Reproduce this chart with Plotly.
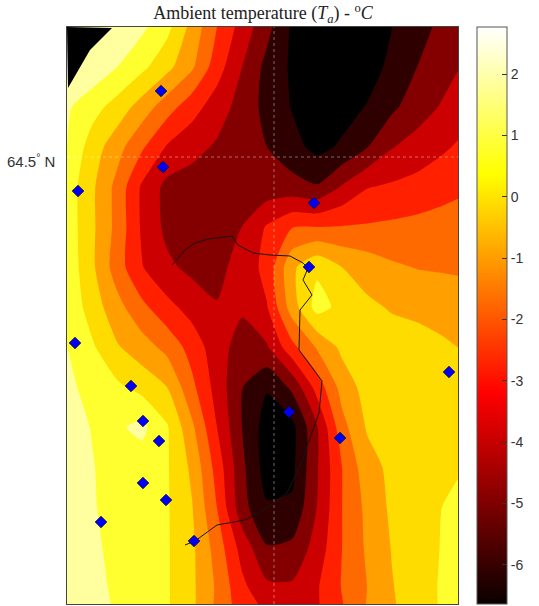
import plotly.graph_objects as go

# map units: metres-like scale, origin at the lower-left of the frame
grid_x = [0, 25, 50, 75, 100, 125, 150, 175, 200, 225, 250, 275, 300, 325, 350, 375, 391]
grid_y = [577, 537, 497, 457, 417, 377, 337, 297, 257, 217, 177, 137, 97, 57, 17, 0]

temp_rows = [
    [1.91, 1.82, 1.65, 1.23, 0.46, -0.94, -2.37, -3.56, -4.67, -5.91, -6.30, -6.47, -6.30, -5.79, -5.27, -4.72, -4.33],
    [2.08, 1.65, 1.06, 0.41, -0.40, -1.38, -2.84, -4.07, -5.19, -5.91, -6.30, -6.47, -6.17, -5.57, -4.93, -4.46, -4.12],
    [1.18, 0.54, -0.14, -1.04, -1.98, -2.88, -3.65, -4.42, -5.19, -5.83, -6.26, -6.13, -5.74, -5.10, -4.50, -3.99, -3.65],
    [1.06, -0.20, -1.17, -2.24, -3.30, -3.78, -4.20, -4.59, -4.93, -5.49, -6.04, -5.66, -4.97, -4.12, -3.73, -3.35, -3.13],
    [0.71, -0.48, -1.77, -3.35, -4.33, -4.50, -4.59, -4.67, -4.59, -4.59, -4.85, -3.99, -3.26, -3.09, -2.92, -2.71, -2.58],
    [0.71, -0.48, -1.77, -3.35, -4.29, -4.50, -4.42, -4.07, -3.13, -2.41, -2.37, -2.32, -2.28, -2.20, -2.11, -1.98, -1.85],
    [0.80, -0.48, -1.94, -3.18, -3.90, -4.29, -4.33, -3.73, -2.96, -0.83, 0.03, -0.66, -1.04, -1.38, -1.55, -1.60, -1.64],
    [0.88, -0.19, -1.21, -2.15, -2.96, -3.56, -4.02, -3.95, -3.26, -1.08, 0.54, -0.06, -0.48, -0.74, -0.87, -1.00, -1.04],
    [1.06, 0.33, -0.57, -1.13, -1.77, -2.71, -3.73, -4.42, -4.16, -2.62, -1.42, -0.45, -0.27, -0.23, -0.31, -0.52, -0.66],
    [1.23, 0.80, 0.37, -0.10, -0.66, -2.15, -3.56, -4.89, -5.70, -4.75, -2.88, -1.17, -0.31, -0.23, -0.14, -0.14, -0.14],
    [1.40, 1.02, 0.93, 1.27, 0.29, -1.34, -3.22, -4.93, -6.20, -6.05, -4.16, -1.81, -0.57, -0.31, -0.14, -0.06, -0.06],
    [1.40, 1.10, 0.72, 0.63, 0.29, -0.83, -2.71, -4.72, -6.20, -6.00, -4.16, -2.37, -1.00, -0.44, -0.23, -0.01, 0.11],
    [1.40, 1.14, 0.72, 0.46, 0.29, -0.61, -2.37, -4.63, -5.70, -5.65, -4.07, -2.37, -1.30, -0.48, -0.14, 0.20, 0.41],
    [1.44, 1.18, 0.88, 0.58, 0.29, -0.48, -1.89, -3.56, -4.89, -4.76, -3.73, -2.37, -1.38, -0.61, -0.19, 0.24, 0.50],
    [1.48, 1.27, 0.93, 0.63, 0.29, -0.48, -1.64, -3.01, -3.90, -3.95, -3.31, -2.32, -1.51, -0.70, -0.19, 0.29, 0.54],
    [1.53, 1.31, 0.97, 0.63, 0.29, -0.48, -1.68, -2.84, -3.43, -3.56, -3.31, -2.41, -1.47, -0.74, -0.23, 0.29, 0.58],
]

station_x = [94, 96, 11, 247, 242, 8, 64, 76, 92, 76, 99, 34, 127, 222, 273, 382]
station_y = [513, 437, 413, 401, 337, 261, 218, 183, 163, 121, 104, 82, 63, 192, 166, 232]

coast_x = [105, 118, 128, 141, 165, 171, 186, 203, 223, 236, 241, 236, 245, 233, 232, 255, 252, 241, 233, 220, 203, 178, 150, 128, 118]
coast_y = [339, 354, 361, 365, 368, 359, 351, 349, 348, 341, 336, 324, 309, 294, 254, 223, 191, 161, 138, 111, 98, 84, 79, 63, 59]

outside_x = [0, 45, 23, 1]
outside_y = [577, 576, 554, 516]

meridian_x = [207, 207]
meridian_y = [0, 577]
parallel_x = [0, 391]
parallel_y = [447, 447]

z_min, z_max = -6.64, 2.77
band_step = 0.855
first_level, last_level = -5.785, 1.91

colorbar_ticks = [-6, -5, -4, -3, -2, -1, 0, 1, 2]
colorbar_labels = ["-6", "-5", "-4", "-3", "-2", "-1", "0", "1", "2"]

band_colors = ["#000000", "#2e0000", "#840000", "#cc0000", "#ff2000", "#ff6a00",
               "#ffa000", "#ffdc00", "#ffff30", "#ffffa0", "#ffffff"]
contour_scale = [[i / 10, c] for i, c in enumerate(band_colors)]
hot_scale = [[0, "#0a0000"], [0.365, "#ff0000"], [0.746, "#ffff00"], [1, "#ffffff"]]

fig = go.Figure()
fig.add_trace(go.Contour(
    x=grid_x, y=grid_y, z=temp_rows, zmin=z_min, zmax=z_max,
    autocontour=False,
    contours=dict(start=first_level, end=last_level, size=band_step, coloring="fill", showlines=False),
    line=dict(width=0, smoothing=0.6), colorscale=contour_scale, showscale=False, hoverinfo="skip",
))
fig.add_trace(go.Scatter(x=outside_x, y=outside_y, mode="lines", fill="toself",
                         fillcolor="#000000", line=dict(width=0), hoverinfo="skip"))
for gx, gy in ((meridian_x, meridian_y), (parallel_x, parallel_y)):
    fig.add_trace(go.Scatter(x=gx, y=gy, mode="lines", hoverinfo="skip",
                             line=dict(color="rgba(255,255,255,0.4)", width=1, dash="dot")))
fig.add_trace(go.Scatter(x=coast_x, y=coast_y, mode="lines", line=dict(color="#151515", width=1)))
fig.add_trace(go.Scatter(x=station_x, y=station_y, mode="markers",
                         marker=dict(symbol="diamond", size=9, color="#0000f0",
                                     line=dict(color="#00003a", width=0.7))))
fig.add_trace(go.Scatter(
    x=[None], y=[None], mode="markers", hoverinfo="skip",
    marker=dict(color=[0], cmin=z_min, cmax=z_max, colorscale=hot_scale, showscale=True,
                colorbar=dict(x=1.0486, xanchor="left", xpad=0, ypad=0, y=0.5, yanchor="middle",
                              lenmode="fraction", len=1, thicknessmode="pixels", thickness=30,
                              outlinecolor="#555555", outlinewidth=1, borderwidth=0,
                              tickmode="array", tickvals=colorbar_ticks, ticktext=colorbar_labels,
                              ticks="inside", ticklen=5, tickcolor="#333333", tickwidth=1,
                              tickfont=dict(family="Liberation Sans", size=14, color="#333333"))),
))
fig.update_layout(
    width=539, height=606, showlegend=False,
    margin=dict(l=67, r=81, t=27, b=2),
    paper_bgcolor="#ffffff", plot_bgcolor="#ffffff",
    title=dict(text="Ambient temperature (<i>T<sub>a</sub></i>) - <sup>o</sup><i>C</i>",
               x=263 / 539, xanchor="center", y=1 - 13 / 606, yanchor="middle",
               font=dict(family="Liberation Serif", size=18, color="#222222")),
    xaxis=dict(range=[0, 391], showgrid=False, zeroline=False, showticklabels=False, ticks="",
               showline=True, mirror=True, linecolor="#444444", linewidth=1),
    yaxis=dict(range=[0, 577], showgrid=False, zeroline=False, showticklabels=False, ticks="",
               showline=True, mirror=True, linecolor="#444444", linewidth=1),
    annotations=[dict(text="64.5<sup>°</sup> N", xref="paper", x=-10 / 391, xanchor="right",
                      yref="y", y=parallel_y[0], yanchor="middle", yshift=-3, showarrow=False,
                      font=dict(family="Liberation Sans", size=15, color="#333333"))],
)
fig.write_html("out.html", config={"displayModeBar": False},
               post_script="document.body.style.margin='0';")
